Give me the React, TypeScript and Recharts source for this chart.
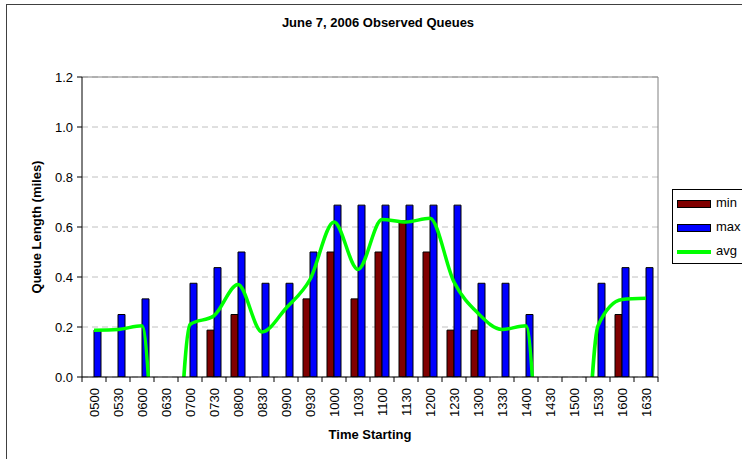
import React from 'react';
import { ComposedChart, Bar, Line, XAxis, YAxis, CartesianGrid, ReferenceLine } from 'recharts';

const times = ['0500', '0530', '0600', '0630', '0700', '0730', '0800', '0830', '0900', '0930', '1000', '1030',
  '1100', '1130', '1200', '1230', '1300', '1330', '1400', '1430', '1500', '1530', '1600', '1630'];
const minQueue = [null, null, null, null, null, 0.1875, 0.25, null, null, 0.3125, 0.5, 0.3125,
  0.5, 0.625, 0.5, 0.1875, 0.1875, null, null, null, null, null, 0.25, null];
const maxQueue = [0.1875, 0.25, 0.3125, null, 0.375, 0.4375, 0.5, 0.375, 0.375, 0.5, 0.6875, 0.6875,
  0.6875, 0.6875, 0.6875, 0.6875, 0.375, 0.375, 0.25, null, null, 0.375, 0.4375, 0.4375];
// the avg curve falls below the axis where no queue was observed (read as off-scale values)
const avgQueue = [0.187, 0.19, 0.205, -1, 0.21, 0.245, 0.37, 0.18, 0.275, 0.39, 0.62, 0.43,
  0.63, 0.62, 0.635, 0.38, 0.255, 0.19, 0.205, -1, -1, 0.205, 0.31, 0.315];
const yTicks = [0, 0.2, 0.4, 0.6, 0.8, 1.0, 1.2];
const seriesNames = ['min', 'max', 'avg'];

const data = times.map((t, i) => ({ time: t, min: minQueue[i], max: maxQueue[i], avg: avgQueue[i] }));

const FONT = '"Liberation Sans", Arial, Helvetica, sans-serif';
const W = 742;
const H = 459;
const PLOT_LEFT = 82;
const PLOT_RIGHT = 658;
const PLOT_TOP = 77;
const PLOT_BOTTOM = 377;
const BAND = (PLOT_RIGHT - PLOT_LEFT) / times.length;

const MIN_COLOR = '#800000';
const MAX_COLOR = '#0000FF';
const AVG_COLOR = '#00FF00';

function XTick(props: any) {
  const { x, payload } = props;
  const idx = props.index ?? payload?.index ?? 0;
  const left = x - BAND / 2;
  const ty = PLOT_BOTTOM + 11;
  return (
    <g>
      <line x1={left} x2={left} y1={PLOT_BOTTOM} y2={PLOT_BOTTOM + 5} stroke="#000" strokeWidth={1} />
      {idx === times.length - 1 && (
        <line x1={x + BAND / 2} x2={x + BAND / 2} y1={PLOT_BOTTOM} y2={PLOT_BOTTOM + 5} stroke="#000" strokeWidth={1} />
      )}
      <text
        x={x}
        y={ty}
        transform={`rotate(-90 ${x} ${ty})`}
        textAnchor="end"
        dominantBaseline="central"
        fontSize={13}
        fontFamily={FONT}
        fill="#000"
      >
        {payload.value}
      </text>
    </g>
  );
}

export default function App() {
  return (
    <div
      style={{
        position: 'fixed',
        left: 0,
        top: 0,
        width: W,
        height: H,
        overflow: 'hidden',
        background: '#fff',
        fontFamily: FONT,
      }}
    >
      <div
        style={{
          position: 'absolute',
          left: 6,
          top: 4,
          width: 900,
          height: 600,
          borderLeft: '1px solid #404040',
          borderTop: '1px solid #404040',
        }}
      />
      <ComposedChart
        width={W}
        height={H}
        data={data}
        margin={{ top: PLOT_TOP, right: W - PLOT_RIGHT, bottom: 0, left: 0 }}
        barCategoryGap={5}
        barGap={0}
      >
        <CartesianGrid vertical={false} stroke="#c0c0c0" strokeDasharray="6 4" />
        <XAxis
          dataKey="time"
          interval={0}
          height={H - PLOT_BOTTOM}
          axisLine={{ stroke: '#000', strokeWidth: 1 }}
          tickLine={false}
          tick={<XTick />}
        />
        <YAxis
          domain={[0, 1.2]}
          ticks={yTicks}
          allowDataOverflow
          width={PLOT_LEFT}
          tickFormatter={(v: number) => v.toFixed(1)}
          axisLine={{ stroke: '#000', strokeWidth: 1 }}
          tickLine={{ stroke: '#000', strokeWidth: 1 }}
          tickSize={5}
          tickMargin={4}
          tick={{ fontSize: 13, fill: '#000', fontFamily: FONT }}
        />
        <ReferenceLine y={1.2} stroke="#808080" strokeWidth={1} />
        <ReferenceLine x="1630" position="end" stroke="#808080" strokeWidth={1} />
        <Bar dataKey="min" fill={MIN_COLOR} stroke="#000" strokeWidth={1} isAnimationActive={false} />
        <Bar dataKey="max" fill={MAX_COLOR} stroke="#000" strokeWidth={1} isAnimationActive={false} />
        <Line
          dataKey="avg"
          type="monotone"
          stroke={AVG_COLOR}
          strokeWidth={3.5}
          dot={false}
          activeDot={false}
          isAnimationActive={false}
        />
      </ComposedChart>

      <div
        style={{
          position: 'absolute',
          left: 378,
          top: 22,
          transform: 'translate(-50%, -50%)',
          whiteSpace: 'nowrap',
          fontWeight: 'bold',
          fontSize: 13,
        }}
      >
        June 7, 2006 Observed Queues
      </div>
      <div
        style={{
          position: 'absolute',
          left: 36,
          top: (PLOT_TOP + PLOT_BOTTOM) / 2,
          transform: 'translate(-50%, -50%) rotate(-90deg)',
          whiteSpace: 'nowrap',
          fontWeight: 'bold',
          fontSize: 13,
        }}
      >
        Queue Length (miles)
      </div>
      <div
        style={{
          position: 'absolute',
          left: (PLOT_LEFT + PLOT_RIGHT) / 2,
          top: 434,
          transform: 'translate(-50%, -50%)',
          whiteSpace: 'nowrap',
          fontWeight: 'bold',
          fontSize: 13,
        }}
      >
        Time Starting
      </div>

      <div
        style={{
          position: 'absolute',
          left: 672,
          top: 189,
          width: 90,
          height: 73,
          border: '1px solid #000',
          background: '#fff',
          fontSize: 13,
        }}
      >
        {seriesNames.map((name, i) => (
          <div
            key={name}
            style={{ position: 'absolute', left: 0, top: 2 + i * 24, height: 24, width: 90 }}
          >
            {name === 'avg' ? (
              <div
                style={{
                  position: 'absolute',
                  left: 4,
                  top: 10,
                  width: 34,
                  height: 4,
                  background: AVG_COLOR,
                }}
              />
            ) : (
              <div
                style={{
                  position: 'absolute',
                  left: 4,
                  top: 8,
                  width: 32,
                  height: 6,
                  background: name === 'min' ? MIN_COLOR : MAX_COLOR,
                  border: '1px solid #000',
                }}
              />
            )}
            <div style={{ position: 'absolute', left: 43, top: 3, lineHeight: '16px' }}>{name}</div>
          </div>
        ))}
      </div>
    </div>
  );
}
